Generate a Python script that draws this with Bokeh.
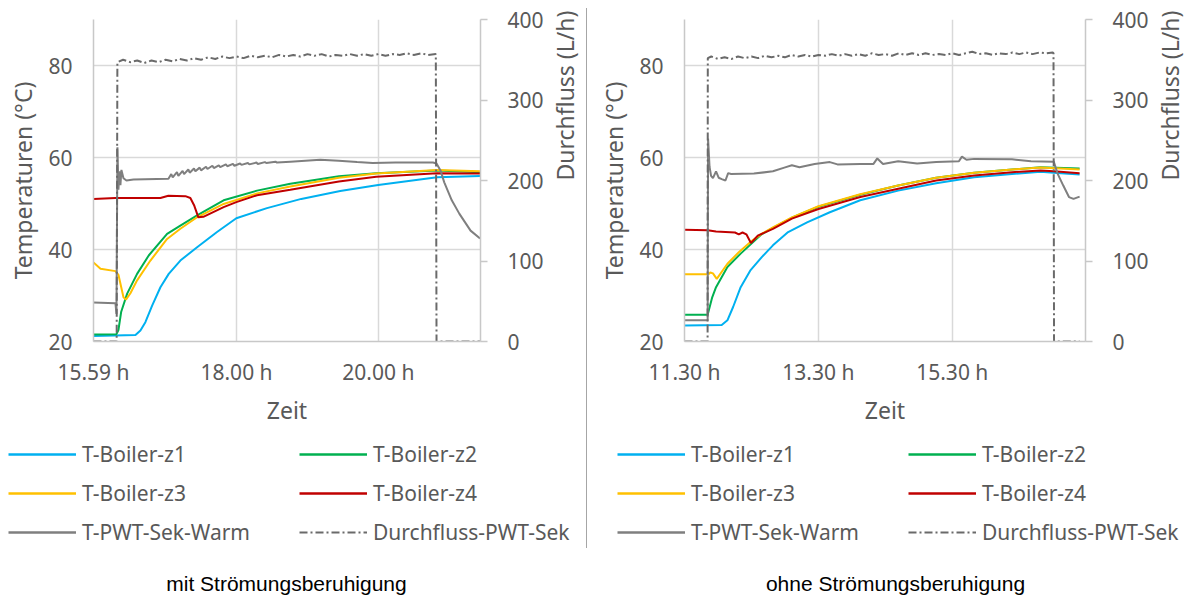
import math
from bokeh.plotting import figure
from bokeh.models import Range1d, LinearAxis, FixedTicker, Legend, LegendItem, Label, Div
from bokeh.layouts import row, column
from bokeh.embed import file_html
from bokeh.resources import INLINE

# ---------------- data: left chart (mit Strömungsberuhigung) ----------------
L_START = 15 + 59 / 60
L_ticks = [L_START, 18.0, 20.0]
L_tick_labels = ["15.59 h", "18.00 h", "20.00 h"]

L_t_z1 = [15.983, 16.575, 16.645, 16.715, 16.81, 16.927, 17.044, 17.208, 17.444, 17.725, 17.997, 18.429, 18.913, 19.462, 19.997, 20.828, 21.434]
L_z1 = [21.2, 21.4, 22.4, 24.2, 27.8, 31.8, 34.7, 37.6, 40.5, 43.8, 46.8, 49.0, 51.0, 52.7, 54.0, 55.7, 56.0]

L_t_z2 = [15.983, 16.307, 16.335, 16.373, 16.458, 16.598, 16.762, 17.021, 17.208, 17.444, 17.818, 18.289, 18.758, 19.444, 19.969, 20.828, 21.434]
L_z2 = [21.5, 21.6, 22.5, 26.4, 30.4, 34.7, 38.7, 43.4, 45.2, 47.4, 50.7, 52.8, 54.3, 55.9, 56.6, 57.2, 56.8]

L_t_z3 = [15.983, 16.082, 16.293, 16.335, 16.406, 16.441, 16.504, 16.598, 16.786, 17.021, 17.208, 17.444, 17.818, 18.289, 18.758, 19.444, 19.969, 20.828, 21.434]
L_z3 = [37.2, 35.8, 35.3, 34.5, 29.6, 29.1, 30.5, 33.3, 37.6, 42.3, 44.5, 47.0, 49.9, 52.2, 53.7, 55.6, 56.5, 57.3, 57.0]

L_t_z4 = [15.983, 16.293, 16.927, 17.039, 17.279, 17.349, 17.405, 17.462, 17.532, 17.818, 17.997, 18.289, 18.758, 19.444, 19.969, 20.828, 21.434]
L_z4 = [51.0, 51.2, 51.2, 51.7, 51.6, 51.2, 49.5, 47.0, 47.1, 49.2, 50.3, 51.8, 53.0, 54.8, 55.8, 56.6, 56.5]

L_t_pwt = [15.983, 16.293, 16.307, 16.321, 16.335, 16.349, 16.363, 16.377, 16.406, 16.448, 16.547, 17.04,
           17.08, 17.10, 17.16, 17.18, 17.24, 17.26, 17.32, 17.34, 17.40, 17.42, 17.48, 17.50, 17.57, 17.59,
           17.66, 17.68, 17.75, 17.77, 17.85, 17.87, 17.95, 17.97, 18.05, 18.07, 18.16, 18.18, 18.28, 18.30,
           18.40, 18.42, 18.55, 18.57, 18.76, 19.18, 19.44, 19.70, 19.92, 20.24, 20.77, 20.82, 20.876, 20.929,
           21.035, 21.141, 21.30, 21.434]
L_pwt = [28.5, 28.3, 26.0, 62.2, 53.0, 57.0, 54.0, 57.3, 55.5, 55.0, 55.2, 55.4,
         56.4, 55.7, 56.8, 56.0, 57.1, 56.4, 57.4, 56.7, 57.6, 57.0, 57.8, 57.2, 58.0, 57.5,
         58.2, 57.7, 58.3, 57.9, 58.5, 58.1, 58.6, 58.2, 58.7, 58.4, 58.8, 58.5, 58.9, 58.6,
         59.0, 58.8, 59.1, 58.9, 59.1, 59.5, 59.3, 59.0, 58.8, 58.9, 58.9, 58.7, 57.2, 54.6,
         50.7, 47.8, 44.1, 42.4]

L_t_flow = [15.983, 16.31, 16.32, 16.4, 16.5, 16.6, 16.7, 16.8, 16.9, 17.0, 17.1, 17.2, 17.3, 17.4, 17.5,
            17.6, 17.7, 17.8, 17.9, 18.0, 18.1, 18.2, 18.3, 18.4, 18.5, 18.6, 18.7, 18.8, 18.9, 19.0,
            19.1, 19.2, 19.3, 19.4, 19.5, 19.6, 19.7, 19.8, 19.9, 20.0, 20.1, 20.2, 20.3, 20.4, 20.5,
            20.6, 20.7, 20.81, 20.82, 21.434]
L_flow = [0, 0, 347, 350, 347, 349, 346, 349, 347, 350, 348, 351, 349, 352, 350,
          353, 351, 354, 352, 354, 352, 355, 353, 355, 353, 356, 354, 356, 354, 357,
          355, 357, 354, 356, 355, 357, 355, 357, 355, 357, 355, 357, 356, 358, 356,
          358, 356, 357, 0, 0]

# ---------------- data: right chart (ohne Strömungsberuhigung) ----------------
R_ticks = [11.5, 13.5, 15.5]
R_tick_labels = ["11.30 h", "13.30 h", "15.30 h"]

R_t_z1 = [11.5, 12.056, 12.141, 12.226, 12.339, 12.481, 12.651, 12.821, 13.048, 13.331, 13.671, 14.125, 14.692, 15.259, 15.826, 16.392, 16.818, 17.016, 17.402]
R_z1 = [23.5, 23.6, 24.6, 27.5, 31.8, 35.4, 38.3, 40.9, 43.8, 45.9, 48.1, 50.7, 52.8, 54.4, 55.7, 56.4, 56.9, 56.7, 56.3]

R_t_z2 = [11.5, 11.846, 11.914, 11.971, 12.141, 12.339, 12.651, 12.821, 13.104, 13.501, 14.125, 14.692, 15.259, 15.826, 16.392, 16.818, 17.402]
R_z2 = [25.8, 25.8, 29.6, 31.8, 36.2, 39.1, 43.3, 44.7, 46.9, 49.3, 51.9, 53.9, 55.6, 56.7, 57.4, 57.9, 57.6]

R_t_z3 = [11.5, 11.857, 11.885, 11.925, 11.982, 12.141, 12.311, 12.481, 12.651, 12.821, 13.104, 13.501, 14.125, 14.692, 15.259, 15.826, 16.392, 16.818, 17.402]
R_z3 = [34.6, 34.6, 35.0, 34.8, 33.6, 36.9, 39.4, 41.6, 43.4, 44.8, 47.0, 49.4, 52.0, 53.9, 55.6, 56.7, 57.4, 57.8, 57.4]

R_t_z4 = [11.5, 11.846, 11.971, 12.254, 12.311, 12.367, 12.424, 12.492, 12.594, 12.821, 13.104, 13.501, 14.125, 14.692, 15.259, 15.826, 16.392, 16.818, 17.016, 17.402]
R_z4 = [44.3, 44.2, 43.9, 43.7, 43.3, 43.7, 43.3, 41.4, 43.0, 44.5, 46.7, 48.8, 51.4, 53.2, 55.0, 56.1, 56.8, 57.2, 57.0, 56.6]

R_t_pwt = [11.5, 11.846, 11.852, 11.874, 11.897, 11.925, 11.971, 12.01, 12.056, 12.112, 12.152, 12.197, 12.537,
           12.821, 12.991, 13.104, 13.218, 13.444, 13.671, 13.785, 14.125, 14.323, 14.38, 14.465, 14.692,
           14.975, 15.259, 15.599, 15.644, 15.712, 15.826, 16.392, 16.676, 17.016, 17.073, 17.158, 17.243,
           17.311, 17.402]
R_pwt = [24.6, 24.6, 64.1, 58.0, 56.0, 55.5, 57.0, 55.6, 55.3, 55.0, 56.6, 56.4, 56.5,
         57.0, 57.8, 58.3, 57.9, 58.6, 59.0, 58.5, 58.6, 58.6, 59.8, 58.6, 59.2,
         58.7, 59.0, 59.2, 60.2, 59.5, 59.7, 59.6, 59.2, 59.1, 56.5, 53.9, 51.4,
         51.0, 51.5]

R_t_flow = [11.5, 11.845, 11.848, 11.9, 12.0, 12.1, 12.2, 12.3, 12.4, 12.5, 12.6, 12.7, 12.8, 12.9, 13.0,
            13.1, 13.2, 13.3, 13.4, 13.5, 13.6, 13.7, 13.8, 13.9, 14.0, 14.1, 14.2, 14.3, 14.4, 14.5,
            14.6, 14.7, 14.8, 14.9, 15.0, 15.1, 15.2, 15.3, 15.4, 15.5, 15.6, 15.7, 15.8, 15.9, 16.0,
            16.1, 16.2, 16.3, 16.4, 16.5, 16.6, 16.7, 16.8, 16.9, 17.0, 17.012, 17.02, 17.402]
R_flow = [0, 0, 352, 354, 351, 353, 351, 354, 352, 354, 352, 355, 353, 355, 353,
          356, 354, 356, 354, 356, 355, 357, 355, 357, 355, 357, 355, 358, 356, 357,
          355, 358, 356, 358, 356, 358, 356, 357, 356, 358, 356, 358, 360, 357, 358,
          356, 358, 357, 359, 357, 359, 357, 359, 358, 359, 358, 0, 0]

SERIES_NAMES = ["T-Boiler-z1", "T-Boiler-z2", "T-Boiler-z3", "T-Boiler-z4", "T-PWT-Sek-Warm", "Durchfluss-PWT-Sek"]
COLORS = ["#00b0f0", "#00b050", "#ffc000", "#c00000", "#7f7f7f", "#6a6a6a"]
FLOW_DASH = "8 3 2 3"

TXT = "#595959"
FONT = "Noto Sans"


def make_chart(x0, x1, ticks, labels, series, flow, fw, bl, br):
    p = figure(frame_width=fw, frame_height=322, min_border_left=bl, min_border_right=br,
               min_border_top=19, min_border_bottom=89,
               x_range=Range1d(x0, x1), y_range=Range1d(20, 90),
               output_backend="svg", toolbar_location=None)
    p.frame_align = False
    p.outline_line_color = None
    p.background_fill_color = "white"
    p.border_fill_color = "white"
    p.extra_y_ranges = {"flow": Range1d(0, 400)}

    xa = p.xaxis[0]
    xa.ticker = FixedTicker(ticks=ticks)
    xa.major_label_overrides = {t: l for t, l in zip(ticks, labels)}
    xa.axis_label = "Zeit"
    ya = p.yaxis[0]
    ya.ticker = FixedTicker(ticks=[20, 40, 60, 80])
    ya.axis_label = "Temperaturen (°C)"
    ra = LinearAxis(y_range_name="flow", ticker=FixedTicker(ticks=[0, 100, 200, 300, 400]),
                    axis_label="Durchfluss (L/h)")
    p.add_layout(ra, "right")

    for ax in (xa, ya, ra):
        ax.axis_line_color = "#c8c8c8"
        ax.axis_line_width = 1.5
        ax.minor_tick_line_color = None
        ax.minor_tick_out = 0
        ax.minor_tick_in = 0
        ax.major_label_text_font = FONT
        ax.major_label_text_font_size = "21px"
        ax.major_label_text_color = TXT
        ax.axis_label_text_font = FONT
        ax.axis_label_text_font_size = "23px"
        ax.axis_label_text_font_style = "normal"
        ax.axis_label_text_color = TXT
    xa.major_tick_line_color = None
    xa.major_tick_out = 0
    xa.major_tick_in = 0
    xa.major_label_standoff = 16
    xa.axis_label_standoff = 5
    ya.major_tick_line_color = None
    ya.major_tick_out = 0
    ya.major_tick_in = 0
    ya.major_label_standoff = 21
    ya.axis_label_standoff = 6
    ra.major_tick_line_color = "#c8c8c8"
    ra.major_tick_line_width = 1.5
    ra.major_tick_out = 7
    ra.major_tick_in = 0
    ra.major_label_standoff = 20
    ra.axis_label_standoff = 18
    ra.axis_label_orientation = math.pi / 2
    ra.axis_label_text_align = "center"
    ra.axis_label_text_baseline = "top"

    p.xgrid.grid_line_color = "#d9d9d9"
    p.xgrid.grid_line_width = 1.5
    p.ygrid.grid_line_color = "#d9d9d9"
    p.ygrid.grid_line_width = 1.5

    for (t, v), c in zip(series, COLORS[:5]):
        p.line(t, v, line_color=c, line_width=2)
    ft, fv = flow
    p.line(ft, fv, line_color=COLORS[5], line_width=2, line_dash=FLOW_DASH, y_range_name="flow")
    return p


def make_legend_fig(width, series, flow, legend_x, caption, caption_x):
    # ranges chosen so that the data lines lie outside the visible area: only the legend shows
    q = figure(width=width, height=168, x_range=Range1d(0, 1), y_range=Range1d(0, 1),
               x_axis_location=None, y_axis_location=None, min_border=0,
               output_backend="svg", toolbar_location=None)
    q.frame_align = False
    q.grid.visible = False
    q.outline_line_color = None
    q.background_fill_color = "white"
    q.border_fill_color = "white"
    rends = []
    for (t, v), c in zip(series, COLORS[:5]):
        rends.append(q.line(t, v, line_color=c, line_width=2.5))
    ft, fv = flow
    rends.append(q.line(ft, fv, line_color=COLORS[5], line_width=2, line_dash=FLOW_DASH))
    items = [LegendItem(label=n, renderers=[r]) for n, r in zip(SERIES_NAMES, rends)]
    leg = Legend(items=items, location=(legend_x, 52), orientation="horizontal", ncols=2,
                 glyph_width=68, glyph_height=26, label_height=26, label_width=206,
                 label_standoff=6, spacing=11, padding=0, margin=0,
                 border_line_color=None, background_fill_alpha=0,
                 label_text_font=FONT, label_text_font_size="21px", label_text_color=TXT)
    q.add_layout(leg, "center")
    q.add_layout(Label(x=caption_x, y=15, x_units="screen", y_units="screen", text=caption,
                       text_align="center", text_baseline="middle",
                       text_font="Liberation Sans", text_font_size="21px", text_color="#000000"))
    return q


L_series = [(L_t_z1, L_z1), (L_t_z2, L_z2), (L_t_z3, L_z3), (L_t_z4, L_z4), (L_t_pwt, L_pwt)]
R_series = [(R_t_z1, R_z1), (R_t_z2, R_z2), (R_t_z3, R_z3), (R_t_z4, R_z4), (R_t_pwt, R_pwt)]

# left chart: 93 + 387 + 122 = 602 px wide; the separator is pulled back to x = 586
p1 = make_chart(L_START, 21.44, L_ticks, L_tick_labels, L_series, (L_t_flow, L_flow), 387, 93, 122)
q1 = make_legend_fig(586, L_series, (L_t_flow, L_flow), 8, "mit Strömungsberuhigung", 286)

p2 = make_chart(11.5, 17.49, R_ticks, R_tick_labels, R_series, (R_t_flow, R_flow), 401, 97, 104)
q2 = make_legend_fig(602, R_series, (R_t_flow, R_flow), 30, "ohne Strömungsberuhigung", 308)

sep = Div(width=1, height=540, margin=(8, 0, 0, -16), styles={"background-color": "#a6a6a6"})

layout = row(column(p1, q1), sep, column(p2, q2))
open("out.html", "w").write(file_html(layout, INLINE))
